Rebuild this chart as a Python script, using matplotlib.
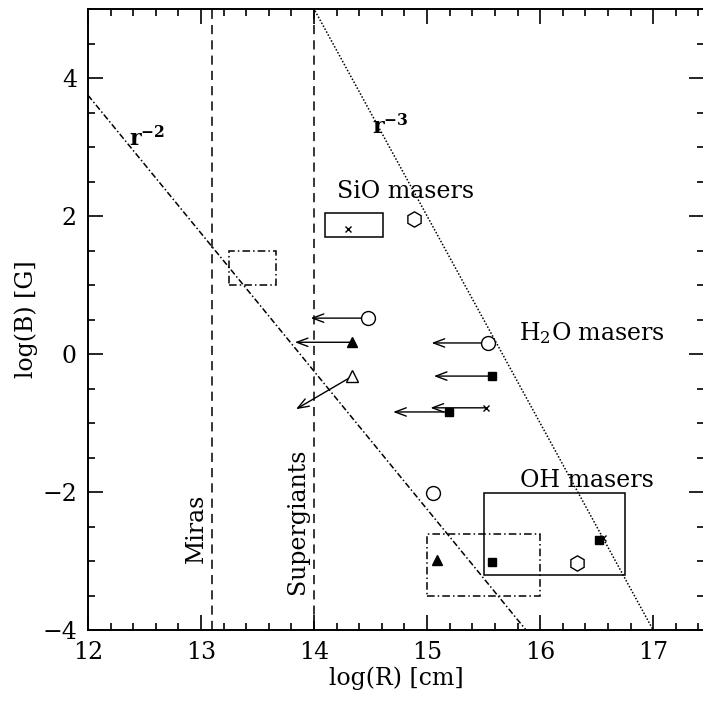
import numpy as np
import matplotlib
matplotlib.use("Agg")
import matplotlib.pyplot as plt
from matplotlib.patches import Rectangle
from matplotlib.ticker import MultipleLocator

plt.rcParams['font.family'] = ['DejaVu Serif']
plt.rcParams['mathtext.fontset'] = 'dejavuserif'

# field-strength scalings, log(B) = b0 - n * (log(R) - r0)
law_r0 = [12.0, 14.0]
law_b0 = [3.75, 5.0]
law_n = [2, 3]
law_labels = [r'$\mathbf{r}^{\mathbf{-2}}$', r'$\mathbf{r}^{\mathbf{-3}}$']

# stellar radii
star_r = [13.1, 14.0]
star_names = ['Miras', 'Supergiants']

# upper limits: marker position and arrow tip
lim_r = [14.48, 14.34, 14.34, 15.54, 15.57, 15.52, 15.19]
lim_b = [0.52, 0.17, -0.32, 0.16, -0.32, -0.78, -0.84]
lim_r_end = [13.97, 13.83, 13.84, 15.04, 15.06, 15.03, 14.70]
lim_b_end = [0.52, 0.17, -0.80, 0.16, -0.32, -0.78, -0.84]
lim_marker = ['o', '^', '^', 'o', 's', 'x', 's']
lim_filled = [False, True, False, False, True, True, True]

# single measurements
pt_r = [14.88, 14.30, 15.05, 15.09, 15.57, 16.33, 16.52, 16.56]
pt_b = [1.95, 1.81, -2.01, -2.99, -3.01, -3.03, -2.70, -2.67]
pt_marker = ['h', 'x', 'o', '^', 's', 'h', 's', 'x']
pt_filled = [False, True, False, True, True, False, True, True]

# measured ranges
box_r0 = [14.10, 13.25, 15.00, 15.50]
box_r1 = [14.61, 13.66, 16.00, 16.75]
box_b0 = [1.70, 1.00, -3.51, -3.20]
box_b1 = [2.04, 1.49, -2.61, -2.01]
box_style = ['-', '-.', '-.', '-']

fig = plt.figure(figsize=(7.03, 7.04), dpi=100)
ax = fig.add_axes([88 / 703, 74 / 704, 616 / 703, 621 / 704])

ax.set_xlim(12, 17.45)
ax.set_ylim(-4, 5)

xx = np.linspace(12, 17.45, 200)
dashes = [(4, 1.6, 1, 1.6), (1, 1.2)]
for r0, b0, n, ds in zip(law_r0, law_b0, law_n, dashes):
    ax.plot(xx, b0 - n * (xx - r0), color='black', lw=1.1, dashes=ds)

for r in star_r:
    ax.axvline(r, color='black', lw=1.1, dashes=(6, 4))

for x0, x1, y0, y1, ls in zip(box_r0, box_r1, box_b0, box_b1, box_style):
    rect = Rectangle((x0, y0), x1 - x0, y1 - y0, fill=False, lw=1.1,
                     ec='black')
    if ls == '-.':
        rect.set_linestyle((0, (5, 2, 1, 2)))
    ax.add_patch(rect)

for r, b, r1, b1 in zip(lim_r, lim_b, lim_r_end, lim_b_end):
    ax.annotate('', xy=(r1, b1), xytext=(r, b),
                arrowprops=dict(arrowstyle='->,head_length=0.8,head_width=0.3',
                                lw=1.0, color='black', shrinkA=0, shrinkB=0))


def draw_marker(r, b, m, filled):
    face = 'black' if filled else 'white'
    size = {'o': 10, 'h': 11, 's': 6, 'x': 5}.get(m, 7 if filled else 9)
    ax.plot(r, b, marker=m, ms=size, mfc=face, mec='black',
            mew=1.0, ls='none', zorder=5)


for r, b, m, f in zip(lim_r, lim_b, lim_marker, lim_filled):
    draw_marker(r, b, m, f)
for r, b, m, f in zip(pt_r, pt_b, pt_marker, pt_filled):
    draw_marker(r, b, m, f)

# labels on the plot
ax.text(12.52, 3.12, law_labels[0], fontsize=16, ha='center', va='center')
ax.text(14.68, 3.30, law_labels[1], fontsize=16, ha='center', va='center')
ax.text(14.20, 2.35, 'SiO masers', fontsize=17, ha='left', va='center')
ax.text(15.81, 0.30, 'H$_2$O masers', fontsize=17, ha='left', va='center')
ax.text(15.82, -1.83, 'OH masers', fontsize=17, ha='left', va='center')
ax.text(12.96, -2.52, star_names[0], fontsize=17, rotation=90,
        ha='center', va='center')
ax.text(13.85, -2.43, star_names[1], fontsize=17, rotation=90,
        ha='center', va='center')

ax.set_xlabel('log(R) [cm]', fontsize=17, labelpad=2)
ax.set_ylabel('log(B) [G]', fontsize=17, labelpad=3)

ax.xaxis.set_major_locator(MultipleLocator(1))
ax.xaxis.set_minor_locator(MultipleLocator(0.2))
ax.yaxis.set_major_locator(MultipleLocator(2))
ax.yaxis.set_minor_locator(MultipleLocator(0.5))
ax.tick_params(which='both', direction='in', top=True, right=True,
               width=1.2, labelsize=17)
ax.tick_params(which='major', length=11, pad=8)
ax.tick_params(which='minor', length=5)
for s in ax.spines.values():
    s.set_linewidth(1.4)

fig.savefig('out.png', dpi=100)
